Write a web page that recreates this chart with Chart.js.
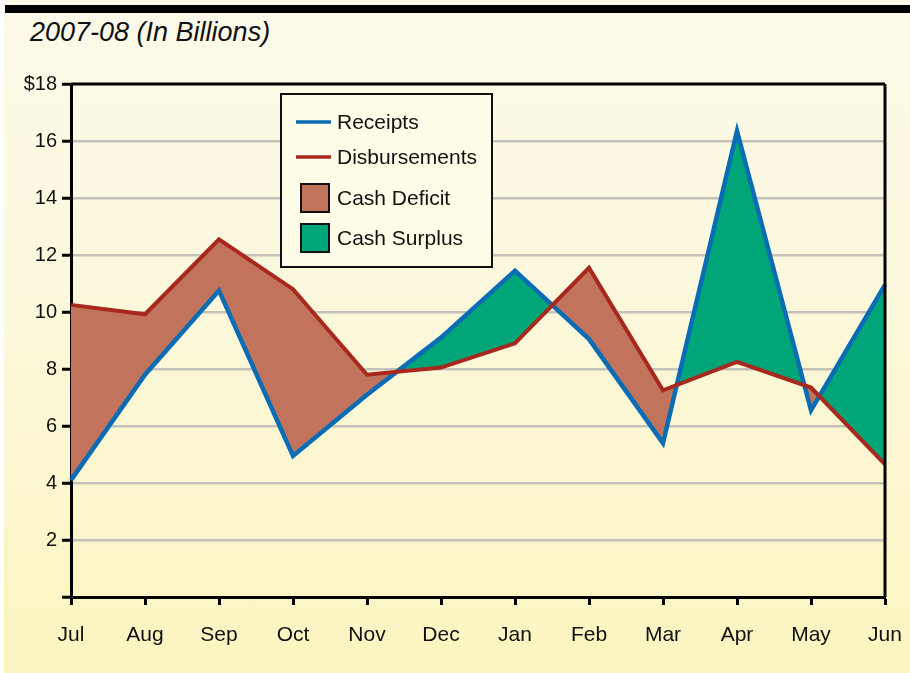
<!DOCTYPE html>
<html>
<head>
<meta charset="utf-8">
<script src="https://cdn.jsdelivr.net/npm/chart.js@4"></script>
<style>
html,body{margin:0;padding:0;}
body{width:910px;height:673px;overflow:hidden;position:relative;
background:linear-gradient(to bottom,#fdfaea 0%,#fcf8dc 45%,#faf5bf 100%);}
#bar{position:absolute;left:5px;top:5px;width:905px;height:8px;background:#000;}
#edge{position:absolute;left:0;top:0;width:4px;height:673px;background:#fff;}
#title{position:absolute;left:30px;top:17px;font:italic 27px "Liberation Sans",Arial,sans-serif;color:#111;}
#wrap{position:absolute;left:0;top:0;width:910px;height:673px;}
</style>
</head>
<body>
<div id="edge"></div>
<div id="bar"></div>
<div id="title">2007-08 (In Billions)</div>
<div id="wrap"><canvas id="c" width="910" height="673"></canvas></div>
<script>
const months = ['Jul','Aug','Sep','Oct','Nov','Dec','Jan','Feb','Mar','Apr','May','Jun'];
const receipts = [4.1, 7.8, 10.75, 4.95, 7.1, 9.1, 11.45, 9.05, 5.4, 16.35, 6.55, 10.95];
const disbursements = [10.25, 9.92, 12.55, 10.8, 7.8, 8.05, 8.9, 11.55, 7.25, 8.25, 7.35, 4.65];
const yTicks = [0, 2, 4, 6, 8, 10, 12, 14, 16, 18];

const colReceipts = '#0a6cb5';
const colDisb = '#a8281e';
const colDeficit = '#c1735b';
const colSurplus = '#00a678';

const legendPlugin = {
  id: 'boxLegend',
  afterDraw(chart) {
    const ctx = chart.ctx;
    ctx.save();
    const x = 281, y = 94, w = 211, h = 173;
    ctx.fillStyle = '#fffde8';
    ctx.fillRect(x, y, w, h);
    ctx.lineWidth = 2;
    ctx.strokeStyle = '#111';
    ctx.strokeRect(x, y, w, h);
    ctx.font = '21px "Liberation Sans", Arial, sans-serif';
    ctx.textBaseline = 'middle';
    ctx.fillStyle = '#111';
    ctx.lineWidth = 3.5;
    ctx.strokeStyle = colReceipts;
    ctx.beginPath(); ctx.moveTo(296, 122); ctx.lineTo(331, 122); ctx.stroke();
    ctx.strokeStyle = colDisb;
    ctx.beginPath(); ctx.moveTo(296, 157); ctx.lineTo(331, 157); ctx.stroke();
    ctx.fillText('Receipts', 337, 123);
    ctx.fillText('Disbursements', 337, 158);
    ctx.lineWidth = 2;
    ctx.strokeStyle = '#111';
    ctx.fillStyle = colDeficit;
    ctx.fillRect(301, 184, 28, 28); ctx.strokeRect(301, 184, 28, 28);
    ctx.fillStyle = colSurplus;
    ctx.fillRect(301, 224, 28, 28); ctx.strokeRect(301, 224, 28, 28);
    ctx.fillStyle = '#111';
    ctx.fillText('Cash Deficit', 337, 199);
    ctx.fillText('Cash Surplus', 337, 239);
    ctx.restore();
  }
};

const borderPlugin = {
  id: 'plotBorder',
  afterDatasetsDraw(chart) {
    const a = chart.chartArea, ctx = chart.ctx;
    ctx.save();
    ctx.strokeStyle = '#000';
    ctx.lineWidth = 3;
    ctx.beginPath();
    ctx.moveTo(a.left, a.top); ctx.lineTo(a.right, a.top);
    ctx.moveTo(a.right, a.top); ctx.lineTo(a.right, a.bottom);
    ctx.stroke();
    ctx.restore();
  }
};

new Chart(document.getElementById('c'), {
  type: 'line',
  data: {
    labels: months,
    datasets: [
      {
        label: 'Disbursements',
        data: disbursements,
        borderColor: colDisb,
        borderWidth: 4,
        pointRadius: 0,
        tension: 0,
        fill: false
      },
      {
        label: 'Receipts',
        data: receipts,
        borderColor: colReceipts,
        borderWidth: 4.5,
        pointRadius: 0,
        tension: 0,
        fill: { target: 0, above: colSurplus, below: colDeficit }
      }
    ]
  },
  options: {
    responsive: false,
    animation: false,
    layout: { padding: { left: 0, top: 84, right: 25, bottom: 0 } },
    plugins: {
      legend: { display: false },
      tooltip: { enabled: false }
    },
    scales: {
      x: {
        offset: false,
        afterFit(s) { s.height = 76; s.paddingLeft = 0; s.paddingRight = 0; },
        grid: {
          display: true,
          drawOnChartArea: false,
          drawTicks: true,
          tickLength: 8,
          tickWidth: 3,
          tickColor: '#000'
        },
        border: { display: true, color: '#000', width: 3 },
        ticks: {
          color: '#111',
          font: { family: '"Liberation Sans", Arial, sans-serif', size: 21 },
          padding: 18,
          maxRotation: 0,
          autoSkip: false
        }
      },
      y: {
        min: 0,
        max: 18,
        afterFit(s) { s.width = 71; },
        afterBuildTicks(s) { s.ticks = yTicks.map(v => ({ value: v })); },
        grid: {
          color: ctx => (ctx.tick && (ctx.tick.value === 0 || ctx.tick.value === 18)) ? 'rgba(0,0,0,0)' : '#c4c2bb',
          lineWidth: 2.5,
          drawTicks: true,
          tickLength: 9,
          tickWidth: 3,
          tickColor: '#000'
        },
        border: { display: true, color: '#000', width: 3 },
        ticks: {
          color: '#111',
          font: { family: '"Liberation Sans", Arial, sans-serif', size: 20 },
          padding: 5,
          callback: v => v === 0 ? '' : (v === 18 ? '$18' : String(v))
        }
      }
    }
  },
  plugins: [legendPlugin, borderPlugin]
});
</script>
</body>
</html>
